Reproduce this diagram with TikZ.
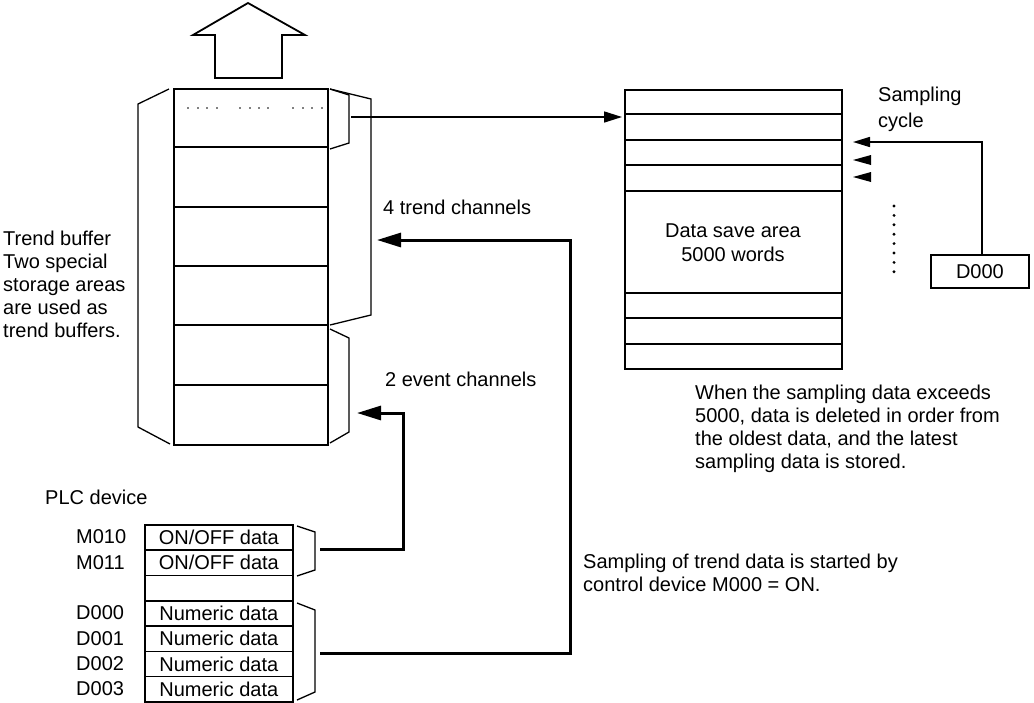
\documentclass[tikz,border=0pt]{standalone}
\usepackage{fontspec}
\setmainfont{Liberation Sans}
\usetikzlibrary{arrows.meta}
\begin{document}
\begin{tikzpicture}[x=1pt,y=-1pt,
  txt/.style={font=\fontsize{20}{23}\selectfont, inner sep=0pt, align=left},
  box/.style={line width=2.2pt},
  rowline/.style={line width=1.8pt},
  brk/.style={line width=1.3pt},
  cell/.style={draw, line width=1.6pt, minimum width=148pt, minimum height=25.3pt, inner sep=0pt, anchor=north west, txt, text height=14.3pt, text depth=0pt},
  lab/.style={txt, anchor=west, text height=14.3pt, text depth=0pt},
  thickconn/.style={line width=3pt, -{Triangle[length=24pt,width=14pt]}},
  thinconn/.style={line width=1.6pt, -{Triangle[length=18pt,width=11pt]}},
  tri/.style={fill=black}
]
\useasboundingbox (0,0) rectangle (1034,702);

% ---------- up arrow
\draw[line width=1.8pt] (215,78) -- (215,35) -- (193,35) -- (248,3) -- (305,35) -- (282,35) -- (282,78) -- cycle;

% ---------- trend buffer stack
\node[box, draw, minimum width=154pt, minimum height=356pt, inner sep=0pt, anchor=north west] (buf) at (173,88) {};
\foreach \k in {1,...,5} {
  \draw[rowline] (173,{88+59.33*\k}) -- (327,{88+59.33*\k});
}
\foreach \x in {188,198,207,217,240,250,259,268,293,303,312,322} {
  \fill (\x,108) circle (0.9pt);
}
% left outer bracket
\draw[brk] (169,89) -- (138,104) -- (138,427) -- (170,444);
% right bracket 4 trend channels
\draw[brk] (330,89) -- (371,99) -- (371,315) -- (330,325);
% small bracket top row
\draw[brk] (330,89) -- (349,95) -- (349,143) -- (330,149);
% 2 event channels bracket
\draw[brk] (330,329) -- (349,338) -- (349,432) -- (330,443);

\coordinate (toprow) at (351,117);
\coordinate (evtip) at (357,413);
\coordinate (trtip) at (377,240);

% ---------- data save area
\node[box, draw, minimum width=217pt, minimum height=279pt, inner sep=0pt, anchor=north west] (dsa) at (624,89) {};
\foreach \y in {114,140,165,191,293,318,344} {
  \draw[rowline] (624,\y) -- (841,\y);
}
\node[txt, align=center, font=\fontsize{20}{24.5}\selectfont, anchor=north] (dsatext) at (733,223.5) {Data save area\\5000 words};
\coordinate (dsain) at (622,117);

% ---------- sampling cycle
\node[txt, font=\fontsize{20}{26}\selectfont, anchor=north west] (samp) at (878,86.4) {Sampling\\cycle};
\node[draw, line width=1.8pt, minimum width=98pt, minimum height=33pt, inner sep=0pt, txt, text height=14.3pt, text depth=0pt, anchor=north west] (d000r) at (930,254) {D000};
\coordinate (sampcorner) at (982,142);
\coordinate (samptip) at (853,142);
\draw[line width=1.6pt, -{Triangle[length=17pt,width=10pt]}] (d000r.north -| sampcorner) -- (sampcorner) -- (samptip);
\fill[tri] (853,160) -- (871,155) -- (871,165) -- cycle;
\fill[tri] (853,177) -- (871,172) -- (871,182) -- cycle;
\foreach \i in {0,...,7} {
  \fill (894,{206+9.4*\i}) circle (1.6pt);
}

% ---------- texts
\node[txt, anchor=north west] (tb) at (3,230.4) {Trend buffer\\Two special\\storage areas\\are used as\\trend buffers.};
\node[txt, anchor=north west] (trc) at (383,199.4) {4 trend channels};
\node[txt, anchor=north west] (evc) at (385,371.4) {2 event channels};
\node[txt, anchor=north west] (when) at (695,384.4) {When the sampling data exceeds\\5000, data is deleted in order from\\the oldest data, and the latest\\sampling data is stored.};
\node[txt, anchor=north west] (start) at (583,553.4) {Sampling of trend data is started by\\control device M000 = ON.};
\node[txt, anchor=north west] (plc) at (45,489.4) {PLC device};

% ---------- PLC table
\foreach \i/\lab/\cont in {0/M010/ON\slash OFF data,1/M011/ON\slash OFF data,2//,3/D000/Numeric data,4/D001/Numeric data,5/D002/Numeric data,6/D003/Numeric data} {
  \node[cell] (p\i) at (144,{524+25.3*\i}) {\cont};
  \node[lab] (l\i) at (76,{524+25.3*\i+12.65}) {\lab};
}
% brackets on PLC table
\draw[brk] (297,526) -- (315,532) -- (315,570) -- (297,576);
\draw[brk] (297,603) -- (315,610) -- (315,692) -- (297,700);
\coordinate (mbr) at (320,549);
\coordinate (dbr) at (320,653);

% ---------- connectors
\draw[thinconn] (toprow) -- (dsain);
\draw[thickconn] (mbr) -- (403,549) -- (403,413) -- (evtip);
\draw[thickconn] (dbr) -- (570,653) -- (570,240) -- (trtip);
\end{tikzpicture}
\end{document}
